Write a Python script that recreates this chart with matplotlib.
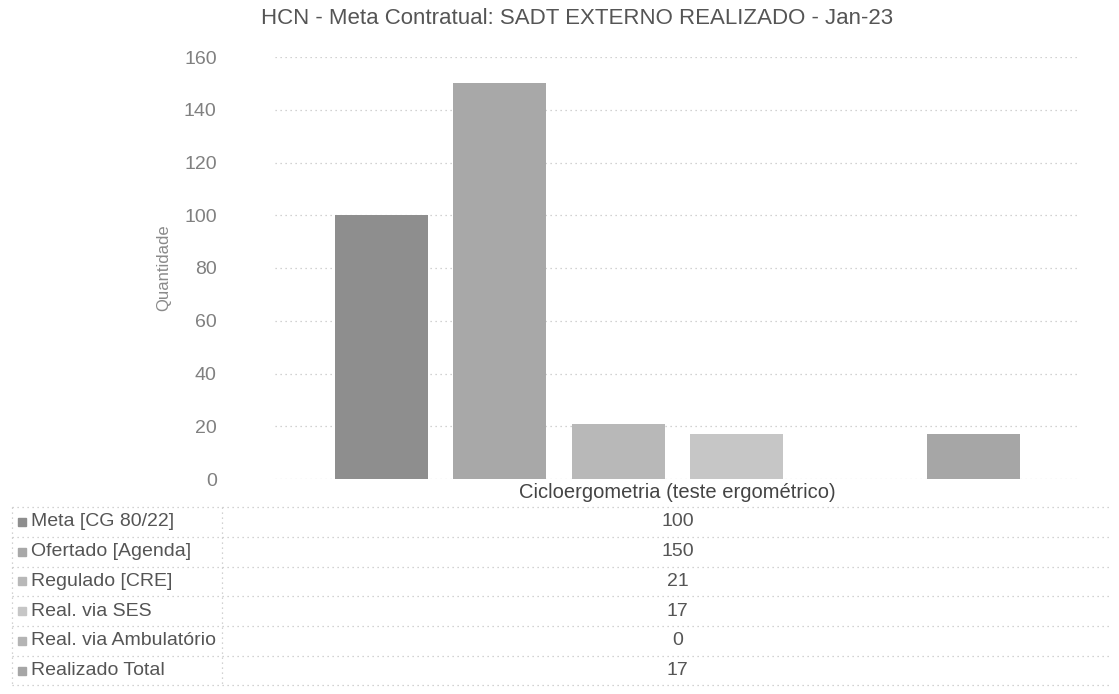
import matplotlib
matplotlib.use("Agg")
import matplotlib.pyplot as plt
from matplotlib.lines import Line2D
from matplotlib.patches import Rectangle

plt.rcParams['font.family'] = ['Liberation Sans', 'DejaVu Sans']

title = "HCN - Meta Contratual: SADT EXTERNO REALIZADO - Jan-23"
category = "Cicloergometria (teste ergométrico)"
series = ["Meta [CG 80/22]", "Ofertado [Agenda]", "Regulado [CRE]",
          "Real. via SES", "Real. via Ambulatório", "Realizado Total"]
values = [100, 150, 21, 17, 0, 17]
colors = ["#8e8e8e", "#a8a8a8", "#b8b8b8", "#c6c6c6", "#b4b4b4", "#a6a6a6"]
yticks = [0, 20, 40, 60, 80, 100, 120, 140, 160]

W, H = 1119, 694
fig = plt.figure(figsize=(W / 100, H / 100), dpi=100)

def fx(px):
    return px / W

def fy(py):
    return 1 - py / H

ax_l, ax_r, ax_top, ax_bot = 275, 1080, 57, 479
ax = fig.add_axes([fx(ax_l), fy(ax_bot), fx(ax_r - ax_l), (ax_bot - ax_top) / H])

n = len(values)
xs = list(range(n))
ax.bar(xs, values, width=0.785, color=colors, zorder=2)
ax.set_xlim(-0.895, n - 1 + 0.895)
ax.set_ylim(0, 160)
ax.set_yticks(yticks)
ax.set_yticklabels([str(t) for t in yticks], fontsize=14, color="#808080")
ax.set_xticks([])
ax.tick_params(axis='y', length=0, pad=42)
ax.grid(axis='y', linestyle=(0, (1, 3)), color="#c4c4c4", linewidth=0.9, zorder=0)
for s in ax.spines.values():
    s.set_visible(False)
ax.set_ylabel("Quantidade", fontsize=12, color="#8a8a8a", labelpad=2)
ax.yaxis.set_label_coords(-(ax_l - 171) / (ax_r - ax_l), 0.5)

fig.text(fx(577), fy(19), title, ha='center', va='center', fontsize=16, color="#555555")

# data table
cat_cx = (ax_l + ax_r) / 2
fig.text(fx(cat_cx), fy(492), category, ha='center', va='center', fontsize=14.5, color="#444444")
row_y0, row_h = 522, 29.7
line_kw = dict(color="#c4c4c4", linewidth=0.9, linestyle=(0, (1, 3)), transform=fig.transFigure)
fig.add_artist(Line2D([fx(12), fx(1110)], [fy(row_y0 - row_h / 2)] * 2, **line_kw))
for i, (name, v, c) in enumerate(zip(series, values, colors)):
    yc = row_y0 + i * row_h
    fig.add_artist(Rectangle((fx(18), fy(yc + 4)), fx(8), 8 / H, color=c, transform=fig.transFigure))
    fig.text(fx(31), fy(yc), name, ha='left', va='center', fontsize=14, color="#555555")
    fig.text(fx(cat_cx), fy(yc), str(v), ha='center', va='center', fontsize=14, color="#555555")
    fig.add_artist(Line2D([fx(12), fx(1110)], [fy(yc + row_h / 2)] * 2, **line_kw))
fig.add_artist(Line2D([fx(12), fx(12)], [fy(row_y0 - row_h / 2), fy(row_y0 + 5.5 * row_h)], **line_kw))
fig.add_artist(Line2D([fx(222), fx(222)], [fy(row_y0 - row_h / 2), fy(row_y0 + 5.5 * row_h)], **line_kw))

fig.savefig("out.png", dpi=100)
